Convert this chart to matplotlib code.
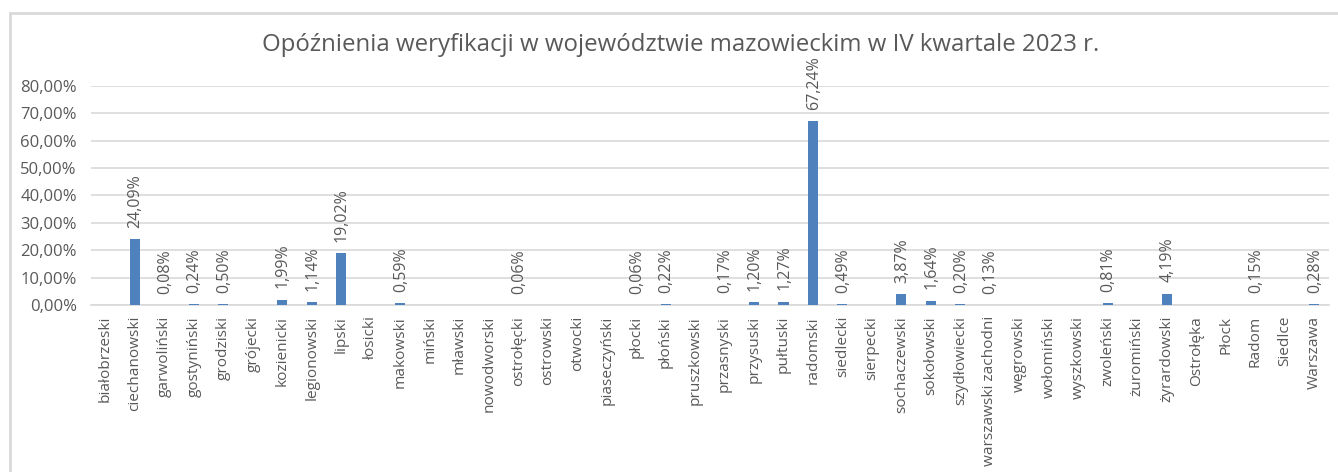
import matplotlib
matplotlib.use("Agg")
import matplotlib.pyplot as plt
import numpy as np
from matplotlib.patches import Rectangle
from matplotlib.ticker import FuncFormatter, MultipleLocator

plt.rcParams['font.family'] = ['Open Sans', 'DejaVu Sans']

# powiaty and cities of the mazowieckie voivodeship
categories = [
    "białobrzeski", "ciechanowski", "garwoliński", "gostyniński", "grodziski",
    "grójecki", "kozienicki", "legionowski", "lipski", "łosicki", "makowski",
    "miński", "mławski", "nowodworski", "ostrołęcki", "ostrowski", "otwocki",
    "piaseczyński", "płocki", "płoński", "pruszkowski", "przasnyski",
    "przysuski", "pułtuski", "radomski", "siedlecki", "sierpecki",
    "sochaczewski", "sokołowski", "szydłowiecki", "warszawski zachodni",
    "węgrowski", "wołomiński", "wyszkowski", "zwoleński", "żuromiński",
    "żyrardowski", "Ostrołęka", "Płock", "Radom", "Siedlce", "Warszawa",
]

# delay share in percent, None where there is no value
delays = [
    None, 24.09, 0.08, 0.24, 0.50,
    None, 1.99, 1.14, 19.02, None, 0.59,
    None, None, None, 0.06, None, None,
    None, 0.06, 0.22, None, 0.17,
    1.20, 1.27, 67.24, 0.49, None,
    3.87, 1.64, 0.20, 0.13,
    None, None, None, 0.81, None,
    4.19, None, None, 0.15, None, 0.28,
]

title = "Opóźnienia weryfikacji w województwie mazowieckim w IV kwartale 2023 r."

text_color = "#595959"
grid_color = "#d9d9d9"
bar_color = "#4f81bd"

values = np.array([np.nan if v is None else v for v in delays])
x = np.arange(len(categories))

fig = plt.figure(figsize=(13.38, 4.72), dpi=100)
ax = fig.add_axes([0.0678, 0.3538, 0.9254, 0.4647])

ax.bar(x, np.nan_to_num(values), width=0.34, color=bar_color, zorder=3)

# data labels above the bars
for xi, v in zip(x, values):
    if np.isnan(v):
        continue
    label = f"{v:.2f}%".replace(".", ",")
    ax.annotate(label, (xi, v), xytext=(0.5, 8), textcoords="offset points",
                rotation=90, ha="center", va="bottom", fontsize=11.5,
                color=text_color)

ax.set_xlim(-0.5, len(categories) - 0.5)
ax.set_ylim(0, 80)
ax.yaxis.set_major_locator(MultipleLocator(10))
ax.yaxis.set_major_formatter(FuncFormatter(lambda v, p: f"{v:.2f}%".replace(".", ",")))
ax.grid(axis="y", color=grid_color, linewidth=1.2, zorder=0)
ax.set_axisbelow(True)

ax.set_xticks(x)
ax.set_xticklabels(categories, rotation=90, fontsize=11.1, color=text_color)
ax.tick_params(axis="x", length=0, pad=8)
ax.tick_params(axis="y", length=0, pad=10, labelsize=12, labelcolor=text_color)

for side in ["top", "right", "left"]:
    ax.spines[side].set_visible(False)
ax.spines["bottom"].set_color(grid_color)
ax.spines["bottom"].set_linewidth(1.2)

fig.text(0.5085, 0.904, title, ha="center", va="center", fontsize=17.3,
         color=text_color)

# light frame round the chart area
fig.patches.append(Rectangle((9.5 / 1338, -0.05), 1.1, 1 - 12.5 / 472 + 0.05,
                             transform=fig.transFigure, fill=False,
                             edgecolor=grid_color, linewidth=2))

fig.savefig("out.png", dpi=100, facecolor="white")
